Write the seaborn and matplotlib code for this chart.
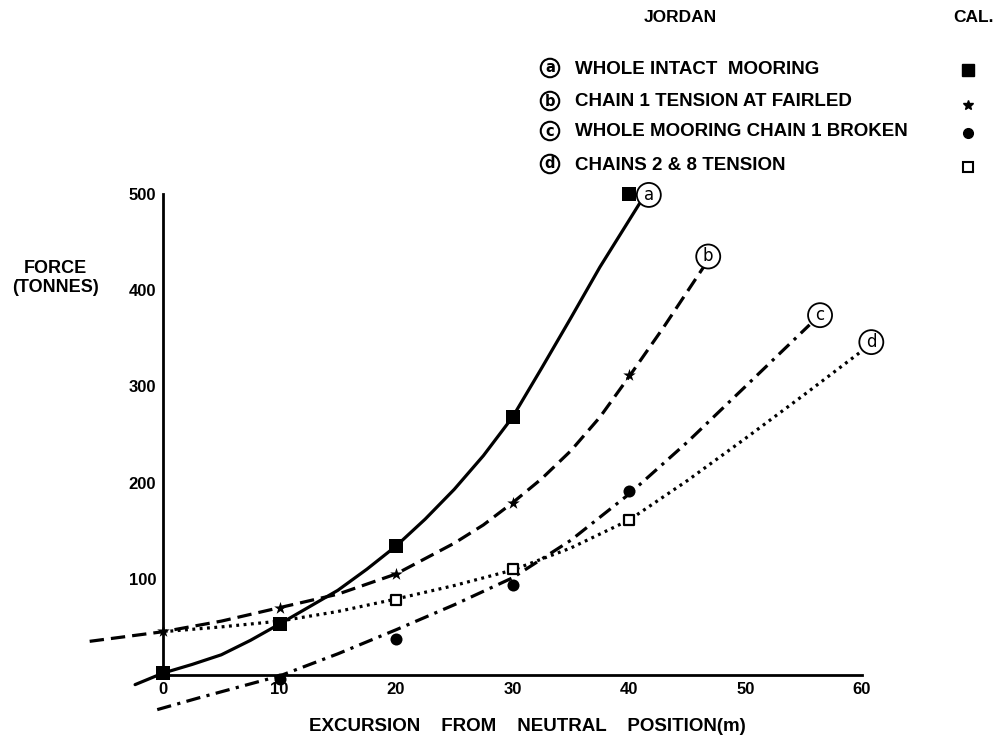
import matplotlib
matplotlib.use("Agg")
import matplotlib.pyplot as plt
import seaborn as sns
import pandas as pd

# ---- Jordan curves ----
a_x = [-2.4, 0, 2.5, 5, 7.5, 10, 13, 15, 17.5, 20, 22.5, 25, 27.5, 30, 32.5, 35, 37.5, 40.9]
a_y = [-10, 2, 11, 21, 36, 53, 74, 88, 110, 134, 162, 193, 228, 268, 319, 371, 424, 490]
b_x = [-6.3, 0, 5, 10, 15, 20, 25, 27.5, 30, 32.5, 35, 37.5, 40, 43, 46.4]
b_y = [35, 45, 56, 70, 84, 105, 137, 156, 179, 204, 233, 268, 310, 362, 424]
c_x = [-0.5, 3, 10, 15, 20, 25, 30, 35, 40, 45, 50, 55.5]
c_y = [-36, -24, -1, 22, 47, 73, 101, 140, 188, 242, 300, 364]
d_x = [0, 5, 10, 15, 20, 25, 30, 35, 40, 45, 50, 55, 59.9]
d_y = [45, 50, 56, 66, 79, 93, 109, 132, 161, 202, 246, 291, 336]

# ---- calculated points ----
a_cal_x = [0, 10, 20, 30, 40]
a_cal_y = [2, 53, 134, 268, 500]
b_cal_x = [0, 10, 20, 30, 40]
b_cal_y = [46, 70, 105, 179, 312]
c_cal_x = [10, 20, 30, 40]
c_cal_y = [-4, 37, 94, 191]
d_cal_x = [20, 30, 40]
d_cal_y = [78, 110, 161]

# ---- curve end labels ----
end_letters = ["a", "b", "c", "d"]
end_x = [41.7, 46.8, 56.4, 60.8]
end_y = [499, 435, 374, 346]

legend_labels = ["WHOLE INTACT  MOORING", "CHAIN 1 TENSION AT FAIRLED",
                 "WHOLE MOORING CHAIN 1 BROKEN", "CHAINS 2 & 8 TENSION"]
x_ticks = [0, 10, 20, 30, 40, 50, 60]
y_ticks = [100, 200, 300, 400, 500]

sns.set_style("white")
plt.rcParams["font.family"] = ["Liberation Sans", "DejaVu Sans"]
plt.rcParams["font.weight"] = "bold"
plt.rcParams["text.color"] = "black"
plt.rcParams["axes.labelcolor"] = "black"
plt.rcParams["xtick.color"] = "black"
plt.rcParams["ytick.color"] = "black"

fig = plt.figure(figsize=(9.99, 7.38), dpi=100)
ax = fig.add_axes([0.0816, 0.0267, 0.8279, 0.717])
ax.set_xlim(-7, 64)
ax.set_ylim(-45, 505)

lw = 2.3
styles = {
    "a": dict(linestyle="-"),
    "b": dict(linestyle=(0, (4.5, 2.2))),
    "c": dict(linestyle=(0, (4.5, 2.0, 1.0, 2.0))),
    "d": dict(linestyle=(0, (0.9, 1.4))),
}
curves = {"a": (a_x, a_y), "b": (b_x, b_y), "c": (c_x, c_y), "d": (d_x, d_y)}
for key, (xs, ys) in curves.items():
    df = pd.DataFrame({"x": xs, "y": ys})
    sns.lineplot(data=df, x="x", y="y", ax=ax, color="black", lw=lw,
                 sort=False, clip_on=False, **styles[key])

# calculated markers
sns.scatterplot(x=a_cal_x, y=a_cal_y, ax=ax, marker="s", s=95, color="black",
                edgecolor="black", linewidth=0, zorder=5, clip_on=False)
sns.scatterplot(x=b_cal_x, y=b_cal_y, ax=ax, marker="*", s=90, color="black",
                edgecolor="black", linewidth=0, zorder=5, clip_on=False)
sns.scatterplot(x=c_cal_x, y=c_cal_y, ax=ax, marker="o", s=75, color="black",
                edgecolor="black", linewidth=0, zorder=5, clip_on=False)
sns.scatterplot(x=d_cal_x, y=d_cal_y, ax=ax, marker="s", s=60, color="white",
                edgecolor="black", linewidth=1.6, zorder=5, clip_on=False)

# end labels
for L, x, y in zip(end_letters, end_x, end_y):
    ax.text(x, y, L, ha="center", va="center", fontsize=12, fontweight="normal",
            family="DejaVu Sans", color="black",
            bbox=dict(boxstyle="circle,pad=0.18", fc="white", ec="black", lw=1.3),
            zorder=6, clip_on=False)

# axes styling
for s in ["top", "right"]:
    ax.spines[s].set_visible(False)
ax.spines["left"].set_position(("data", 0))
ax.spines["bottom"].set_position(("data", 0))
ax.spines["left"].set_bounds(0, 500)
ax.spines["bottom"].set_bounds(0, 60)
for s in ["left", "bottom"]:
    ax.spines[s].set_linewidth(2.0)
    ax.spines[s].set_color("black")

ax.set_xticks(x_ticks)
ax.set_xticks([5, 15, 25, 35, 45, 55], minor=True)
ax.set_yticks(y_ticks)
ax.tick_params(axis="x", which="both", direction="in", length=5, width=1.5,
               pad=5, labelsize=12, colors="black")
ax.tick_params(axis="y", direction="in", length=12, width=1.5, pad=5,
               labelsize=12, colors="black")
ax.tick_params(axis="x", which="minor", length=4)
for t in ax.get_xticklabels() + ax.get_yticklabels():
    t.set_fontweight("bold")

ax.set_xlabel("EXCURSION    FROM    NEUTRAL    POSITION(m)", fontsize=13.5,
              fontweight="bold", color="black")
ax.xaxis.set_label_coords(0.5386, -0.0164)
ax.xaxis.label.set_va("center")
ax.set_ylabel("FORCE\n(TONNES)", fontsize=13, fontweight="bold", rotation=0,
              ha="center", va="center", linespacing=1.1, color="black")
ax.yaxis.set_label_coords(-0.032, 0.832)

# header / key
def fx(px):
    return px / 999.0

def fy(py):
    return 1 - py / 738.0

fig.text(fx(680), fy(17), "JORDAN", ha="center", va="center", fontsize=12.5,
         fontweight="bold", color="black")
fig.text(fx(973), fy(17), "CAL.", ha="center", va="center", fontsize=12.5,
         fontweight="bold", color="black")
rows_y = [68, 101, 131, 164]
for L, lab, ry in zip(end_letters, legend_labels, rows_y):
    fig.text(fx(550), fy(ry), L, ha="center", va="center", fontsize=10.5,
             fontweight="bold", family="DejaVu Sans", color="black",
             bbox=dict(boxstyle="circle,pad=0.12", fc="white", ec="black", lw=1.5))
    fig.text(fx(575), fy(ry + 1), lab, ha="left", va="center", fontsize=13.5,
             fontweight="bold", color="black")

key_marks = [("s", "black", 1, 70, 8), ("*", "black", 1, 105, 7),
             ("o", "black", 1, 133, 7), ("s", "white", 1.5, 167, 7)]
for m, fc, ew, ry, ms in key_marks:
    ax.plot([fx(968)], [fy(ry)], marker=m, ms=ms, mfc=fc, mec="black", mew=ew,
            transform=fig.transFigure, clip_on=False, linestyle="none")

fig.savefig("out.png", dpi=100, facecolor="white")
